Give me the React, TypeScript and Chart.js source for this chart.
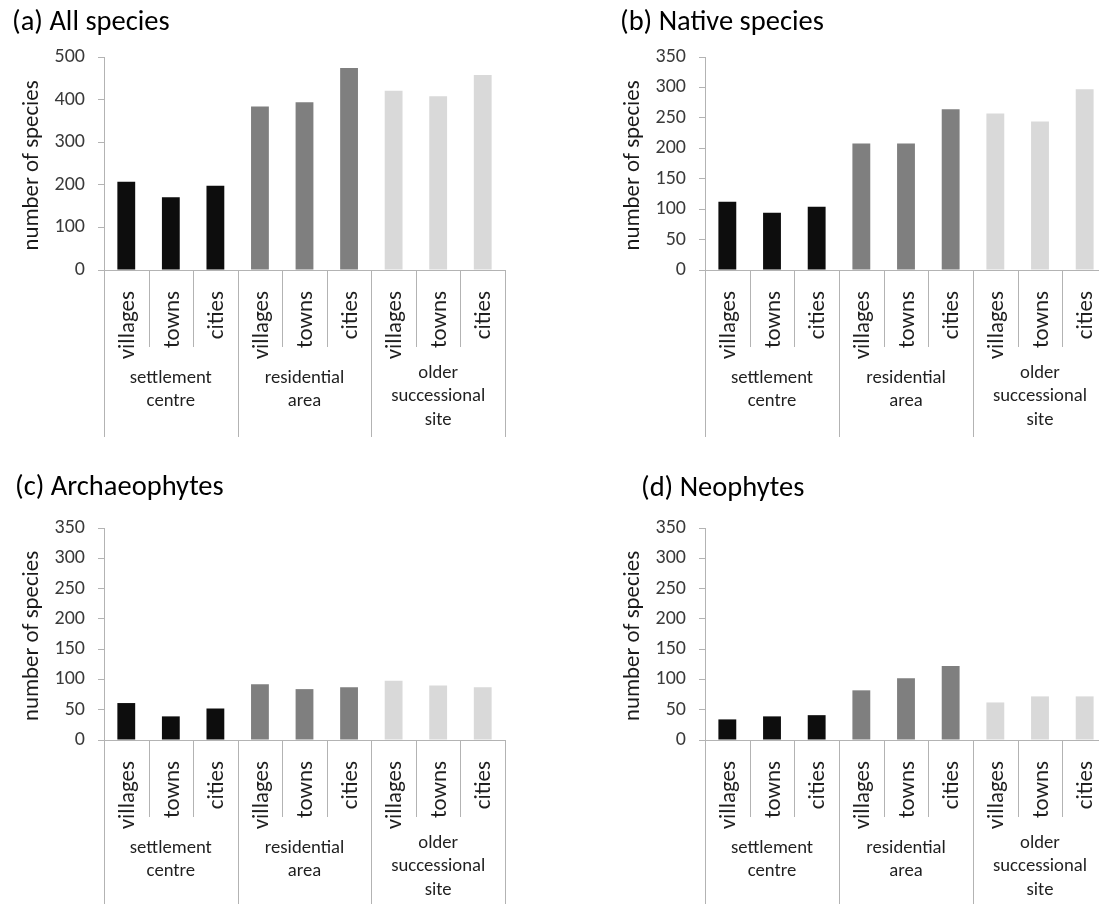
import React, { useEffect, useRef } from 'react';
import { Chart, registerables } from 'chart.js';

Chart.register(...registerables);

// ---- data ----
const sizeLabels = ['villages', 'towns', 'cities'];
const groupLabels = [
  ['settlement', 'centre'],
  ['residential', 'area'],
  ['older', 'successional', 'site'],
];
const categories = groupLabels.flatMap(() => sizeLabels);

const allSpecies = [207, 171, 198, 384, 394, 474, 421, 408, 458];
const nativeSpecies = [112, 94, 104, 208, 208, 264, 257, 244, 297];
const archaeophytes = [61, 39, 52, 92, 84, 87, 98, 90, 87];
const neophytes = [34, 39, 41, 82, 102, 122, 62, 72, 72];

const groupColors = ['#0d0d0d', '#7f7f7f', '#d9d9d9'];
const barColors = groupLabels.flatMap((_, g) => sizeLabels.map(() => groupColors[g]));

const yTitle = 'number of species';

const FONT = 'Carlito, Lato, "Open Sans", sans-serif';
const AXIS = '#b3b3b3';
const TITLE_SIZE = 28.5;

type PanelDef = {
  title: string;
  data: number[];
  max: number;
  step: number;
  left: number;
  top: number;
  width: number;
  height: number;
  titleX: number;
  titleCY: number;
  areaLeft: number;
  areaRight: number;
  areaTop: number;
  areaBottom: number;
};

const panels: PanelDef[] = [
  { title: '(a) All species', data: allSpecies, max: 500, step: 100, left: 0, top: 0, width: 549, height: 460,
    titleX: 12, titleCY: 22.5, areaLeft: 104, areaRight: 505, areaTop: 57, areaBottom: 270 },
  { title: '(b) Native species', data: nativeSpecies, max: 350, step: 50, left: 549, top: 0, width: 580, height: 460,
    titleX: 71, titleCY: 22.5, areaLeft: 156, areaRight: 558, areaTop: 57, areaBottom: 270 },
  { title: '(c) Archaeophytes', data: archaeophytes, max: 350, step: 50, left: 0, top: 460, width: 549, height: 444,
    titleX: 15, titleCY: 28, areaLeft: 104, areaRight: 505, areaTop: 68, areaBottom: 280 },
  { title: '(d) Neophytes', data: neophytes, max: 350, step: 50, left: 549, top: 460, width: 580, height: 444,
    titleX: 92, titleCY: 29, areaLeft: 156, areaRight: 558, areaTop: 68, areaBottom: 280 },
];

const multiLevelPlugin = {
  id: 'multiLevel',
  afterDraw(chart: any) {
    const { ctx, chartArea, scales } = chart;
    const x = scales.x;
    const n = categories.length;
    const bottom = chartArea.bottom;
    const half = (x.getPixelForValue(1) - x.getPixelForValue(0)) / 2;
    ctx.save();
    ctx.strokeStyle = AXIS;
    ctx.lineWidth = 1;
    for (let i = 0; i <= n; i++) {
      const px = i < n ? x.getPixelForValue(i) - half : x.getPixelForValue(n - 1) + half;
      const isGroup = i % sizeLabels.length === 0;
      const len = isGroup ? 167 : 77;
      ctx.beginPath();
      ctx.moveTo(Math.round(px) + 0.5, bottom);
      ctx.lineTo(Math.round(px) + 0.5, bottom + len);
      ctx.stroke();
    }
    // category labels (rotated)
    ctx.fillStyle = '#1f1f1f';
    ctx.font = `23px ${FONT}`;
    ctx.textAlign = 'right';
    ctx.textBaseline = 'middle';
    categories.forEach((c, i) => {
      const px = x.getPixelForValue(i);
      ctx.save();
      ctx.translate(px + 2, bottom + 21);
      ctx.rotate(-Math.PI / 2);
      ctx.fillText(c, 0, 0);
      ctx.restore();
    });
    // group labels
    ctx.font = `18.7px ${FONT}`;
    ctx.textAlign = 'center';
    groupLabels.forEach((lines, g) => {
      const cx = (x.getPixelForValue(g * 3) + x.getPixelForValue(g * 3 + 2)) / 2;
      const start = bottom + 108 - (lines.length - 2) * 5;
      lines.forEach((t, j) => ctx.fillText(t, cx, start + j * 23.5));
    });
    // y-axis title
    ctx.font = `22.8px ${FONT}`;
    ctx.fillStyle = '#1a1a1a';
    ctx.save();
    ctx.translate(chartArea.left - 72, (chartArea.top + chartArea.bottom) / 2 + 2);
    ctx.rotate(-Math.PI / 2);
    ctx.fillText(yTitle, 0, 0);
    ctx.restore();
    ctx.restore();
  },
};

function Panel({ p }: { p: PanelDef }) {
  const ref = useRef<HTMLCanvasElement | null>(null);
  useEffect(() => {
    if (!ref.current) return;
    const lineH = TITLE_SIZE * 1.2;
    const pt = p.titleCY - lineH / 2;
    const pb = p.areaTop - pt - lineH;
    const chart = new Chart(ref.current, {
      type: 'bar',
      data: {
        labels: categories,
        datasets: [
          {
            data: p.data,
            backgroundColor: barColors,
            borderWidth: 0,
            barPercentage: 0.4,
            categoryPercentage: 1,
          },
        ],
      },
      options: {
        responsive: false,
        maintainAspectRatio: false,
        animation: false,
        devicePixelRatio: 1,
        layout: { padding: { left: p.titleX, right: p.width - p.areaRight, top: 0, bottom: 0 } },
        plugins: {
          legend: { display: false },
          tooltip: { enabled: false },
          title: {
            display: true,
            text: p.title,
            align: 'start',
            color: '#000',
            font: { family: FONT, size: TITLE_SIZE, weight: 'normal' },
            padding: { top: pt, bottom: pb },
          },
        },
        scales: {
          x: {
            ticks: { display: false },
            grid: { display: false },
            border: { display: true, color: AXIS, width: 1 },
            afterFit: (s: any) => {
              s.height = p.height - p.areaBottom;
            },
          },
          y: {
            min: 0,
            max: p.max,
            ticks: { stepSize: p.step, color: '#3a3a3a', font: { family: FONT, size: 20 }, padding: 13 },
            grid: { drawOnChartArea: false, drawTicks: true, tickLength: 6, color: AXIS },
            border: { display: true, color: AXIS, width: 1 },
            afterFit: (s: any) => {
              s.width = p.areaLeft - p.titleX;
            },
          },
        },
      } as any,
      plugins: [multiLevelPlugin],
    });
    return () => chart.destroy();
  }, [p]);
  return (
    <canvas
      ref={ref}
      width={p.width}
      height={p.height}
      style={{ position: 'absolute', left: p.left, top: p.top, width: p.width, height: p.height, display: 'block' }}
    />
  );
}

export default function App() {
  return (
    <div
      style={{
        position: 'absolute',
        left: 0,
        top: 0,
        width: 1099,
        height: 904,
        overflow: 'hidden',
        background: '#fff',
      }}
    >
      {panels.map((p) => (
        <Panel key={p.title} p={p} />
      ))}
    </div>
  );
}
